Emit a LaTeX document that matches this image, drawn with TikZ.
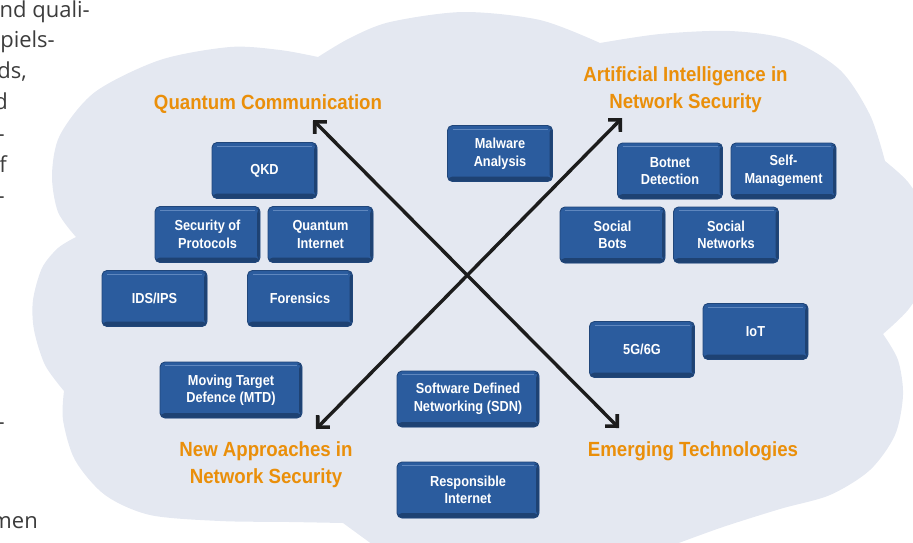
\documentclass[tikz,border=0pt]{standalone}
\usepackage{fontspec}
\usetikzlibrary{arrows.meta}
\newfontfamily\boxfont[FakeStretch=0.88]{Liberation Sans}
\newfontfamily\titlefont[FakeStretch=0.91]{Liberation Sans}
\newfontfamily\pagefont{Open Sans}
\definecolor{cloudc}{RGB}{228,232,241}
\definecolor{boxblue}{RGB}{43,92,158}
\definecolor{boxdark}{RGB}{30,66,115}
\definecolor{boxedge}{RGB}{32,70,122}
\definecolor{boxhi}{RGB}{95,135,190}
\definecolor{titleor}{RGB}{234,143,10}
\definecolor{pagegray}{RGB}{60,60,60}
\definecolor{arrowc}{RGB}{28,28,28}
\tikzset{
  bx/.style={draw=boxedge, line width=0.9pt, fill=boxblue, rounded corners=5pt,
    minimum width=105pt, minimum height=56pt, inner sep=0pt, align=center, text=white,
    font=\boxfont\bfseries\fontsize{14.5}{17.5}\selectfont,
    path picture={
      \fill[boxdark] ([yshift=-2pt]path picture bounding box.south west) rectangle ([yshift=5pt]path picture bounding box.south east);
      \fill[boxdark] ([xshift=-3pt,yshift=2pt]path picture bounding box.south east) rectangle ([yshift=-2pt]path picture bounding box.north east);
      \draw[boxhi, line width=0.7pt] ([xshift=5pt,yshift=-3.5pt]path picture bounding box.north west) -- ([xshift=-5pt,yshift=-3.5pt]path picture bounding box.north east);
    }},
  wbx/.style={bx, minimum width=142pt},
  ttl/.style={text=titleor, align=center, inner sep=0pt, font=\titlefont\bfseries\fontsize{20.5}{27}\selectfont},
  pg/.style={text=pagegray, inner sep=0pt, anchor=base east, font=\pagefont\fontsize{22}{31}\selectfont},
  arr/.style={draw=arrowc, line width=3.4pt, arrows={Straight Barb[angle=90:12pt, line width=3.6pt]-Straight Barb[angle=90:12pt, line width=3.6pt]}}
}
\begin{document}
\begin{tikzpicture}[x=1pt, y=-1pt]
\useasboundingbox (0,0) rectangle (913,542);
% cloud
\fill[cloudc]
  plot[smooth] coordinates {(76,237) (58,212) (52,175) (60,135) (95,92) (160,60) (230,47) (280,50) (318,57)}
  -- plot[smooth] coordinates {(318,57) (350,38) (390,22) (463,12) (540,20) (600,43)}
  -- plot[smooth] coordinates {(600,43) (660,34) (730,31) (790,40) (840,70) (870,115) (885,161)}
  -- plot[smooth] coordinates {(885,161) (908,182) (926,212) (932,245) (926,280) (908,310) (883,334)}
  -- plot[smooth] coordinates {(883,334) (898,360) (903,395) (895,435) (870,470) (830,495) (780,509) (720,528) (660,550)}
  -- (380,550) -- (343,523)
  -- plot[smooth] coordinates {(343,523) (290,522) (220,521) (150,515) (105,495) (75,460) (63,420) (64,391)}
  -- plot[smooth] coordinates {(64,391) (45,365) (34,330) (33,300) (42,268) (58,248) (76,237)}
  -- cycle;
% page text fragments
\node[pg] (p1) at (90,17) {nd quali-};
\node[pg] (p2) at (55,47) {piels-};
\node[pg] (p3) at (27,78) {ds,};
\node[pg] (p4) at (8,109) {d};
\node[pg] (p5) at (5,141) {-};
\node[pg] (p6) at (7,172) {f};
\node[pg] (p7) at (5,203) {-};
\node[pg] (p8) at (5,429) {-};
\node[pg] (p9) at (38,528) {men};
% titles
\node[ttl] (tqc) at (268,104) {Quantum Communication};
\node[ttl] (tai) at (685.5,90) {Artificial Intelligence in\\Network Security};
\node[ttl] (tna) at (266,465) {New Approaches in\\Network Security};
\node[ttl] (tet) at (693,451) {Emerging Technologies};
% arrows
\coordinate (tl) at (313,120);
\coordinate (br) at (619,428);
\coordinate (tr) at (622,118);
\coordinate (bl) at (316,429);
\draw[arr] (tl) -- (br);
\draw[arr] (tr) -- (bl);
% boxes
\node[bx] (qkd) at (264.5,170.5) {QKD};
\node[bx] (sec) at (207.5,234.5) {Security of\\Protocols};
\node[bx] (qin) at (320.5,234.5) {Quantum\\Internet};
\node[bx] (ids) at (154.5,298.5) {IDS/IPS};
\node[bx] (for) at (300,298.5) {Forensics};
\node[bx] (mal) at (500,153.5) {Malware\\Analysis};
\node[bx] (bot) at (670,171) {Botnet\\Detection};
\node[bx] (slf) at (783.5,171) {Self-\\Management};
\node[bx] (sbt) at (612.5,235) {Social\\Bots};
\node[bx] (snw) at (726,235) {Social\\Networks};
\node[bx] (g56) at (642,349.5) {5G/6G};
\node[bx] (iot) at (755.5,331.5) {IoT};
\node[wbx] (mtd) at (231,390) {Moving Target\\Defence (MTD)};
\node[wbx] (sdn) at (468,399) {Software Defined\\Networking (SDN)};
\node[wbx] (rin) at (468,490) {Responsible\\Internet};
\end{tikzpicture}
\end{document}
